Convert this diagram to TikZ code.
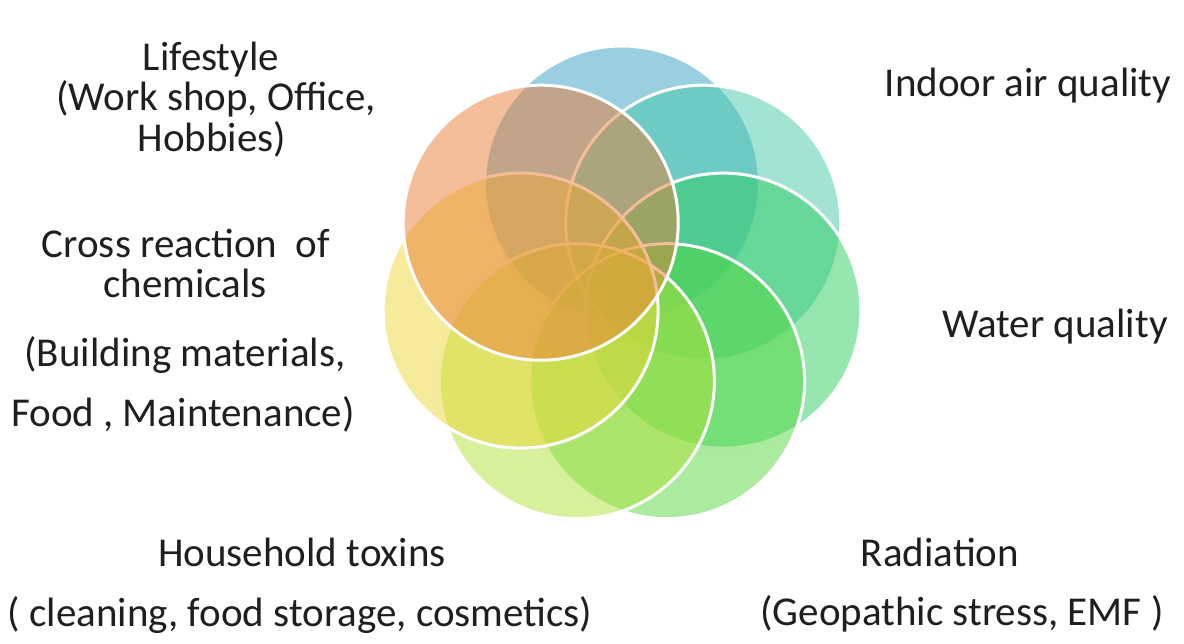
\documentclass[tikz,border=0pt]{standalone}
\usepackage{fontspec}
\setmainfont{Carlito}
\usepackage{tikz}

\definecolor{cblue}{RGB}{51,159,193}
\definecolor{cteal}{RGB}{70,200,170}
\definecolor{cgreen}{RGB}{45,205,95}
\definecolor{cleaf}{RGB}{85,215,65}
\definecolor{clime}{RGB}{175,225,55}
\definecolor{cyellow}{RGB}{235,215,55}
\definecolor{corange}{RGB}{235,125,55}

\begin{document}
\begin{tikzpicture}[x=1pt,y=-1pt,
	petal/.style={shape=circle,minimum size=275pt,inner sep=0pt,draw=white,line width=3pt,fill opacity=0.5},
	lbl/.style={anchor=base,inner sep=0pt,text=black!88,font=\fontsize{41}{44}\selectfont}]
	\useasboundingbox (0,0) rectangle (1184,643);

	\node[petal,fill=cblue]   (a) at (622, 183.5)   {};
	\node[petal,fill=cteal]   (b) at (703.3, 222.7) {};
	\node[petal,fill=cgreen]  (c) at (723.4, 310.6) {};
	\node[petal,fill=cleaf]   (d) at (667.1, 381.2) {};
	\node[petal,fill=clime]   (e) at (576.9, 381.2) {};
	\node[petal,fill=cyellow] (f) at (520.6, 310.6) {};
	\node[petal,fill=corange] (g) at (540.7, 222.7) {};

	\node[lbl] (life)   at (211, 70)  {Lifestyle};
	\node[lbl] (work)   at (216, 110) {(Work shop, Office,};
	\node[lbl] (hobby)  at (212, 151) {Hobbies)};

	\node[lbl] (cross)  at (186, 257) {Cross reaction\ \ of};
	\node[lbl] (chem)   at (185, 297) {chemicals};
	\node[lbl] (build)  at (185, 366) {(Building materials,};
	\node[lbl] (food)   at (183, 426) {Food , Maintenance)};

	\node[lbl] (indoor) at (1028, 96) {Indoor air quality};
	\node[lbl] (water)  at (1055, 337) {Water quality};

	\node[lbl] (house)  at (302, 566) {Household toxins};
	\node[lbl] (clean)  at (300, 626) {( cleaning, food storage, cosmetics)};

	\node[lbl] (rad)    at (940, 566) {Radiation};
	\node[lbl] (geo)    at (962, 625) {(Geopathic stress, EMF )};
\end{tikzpicture}
\end{document}
